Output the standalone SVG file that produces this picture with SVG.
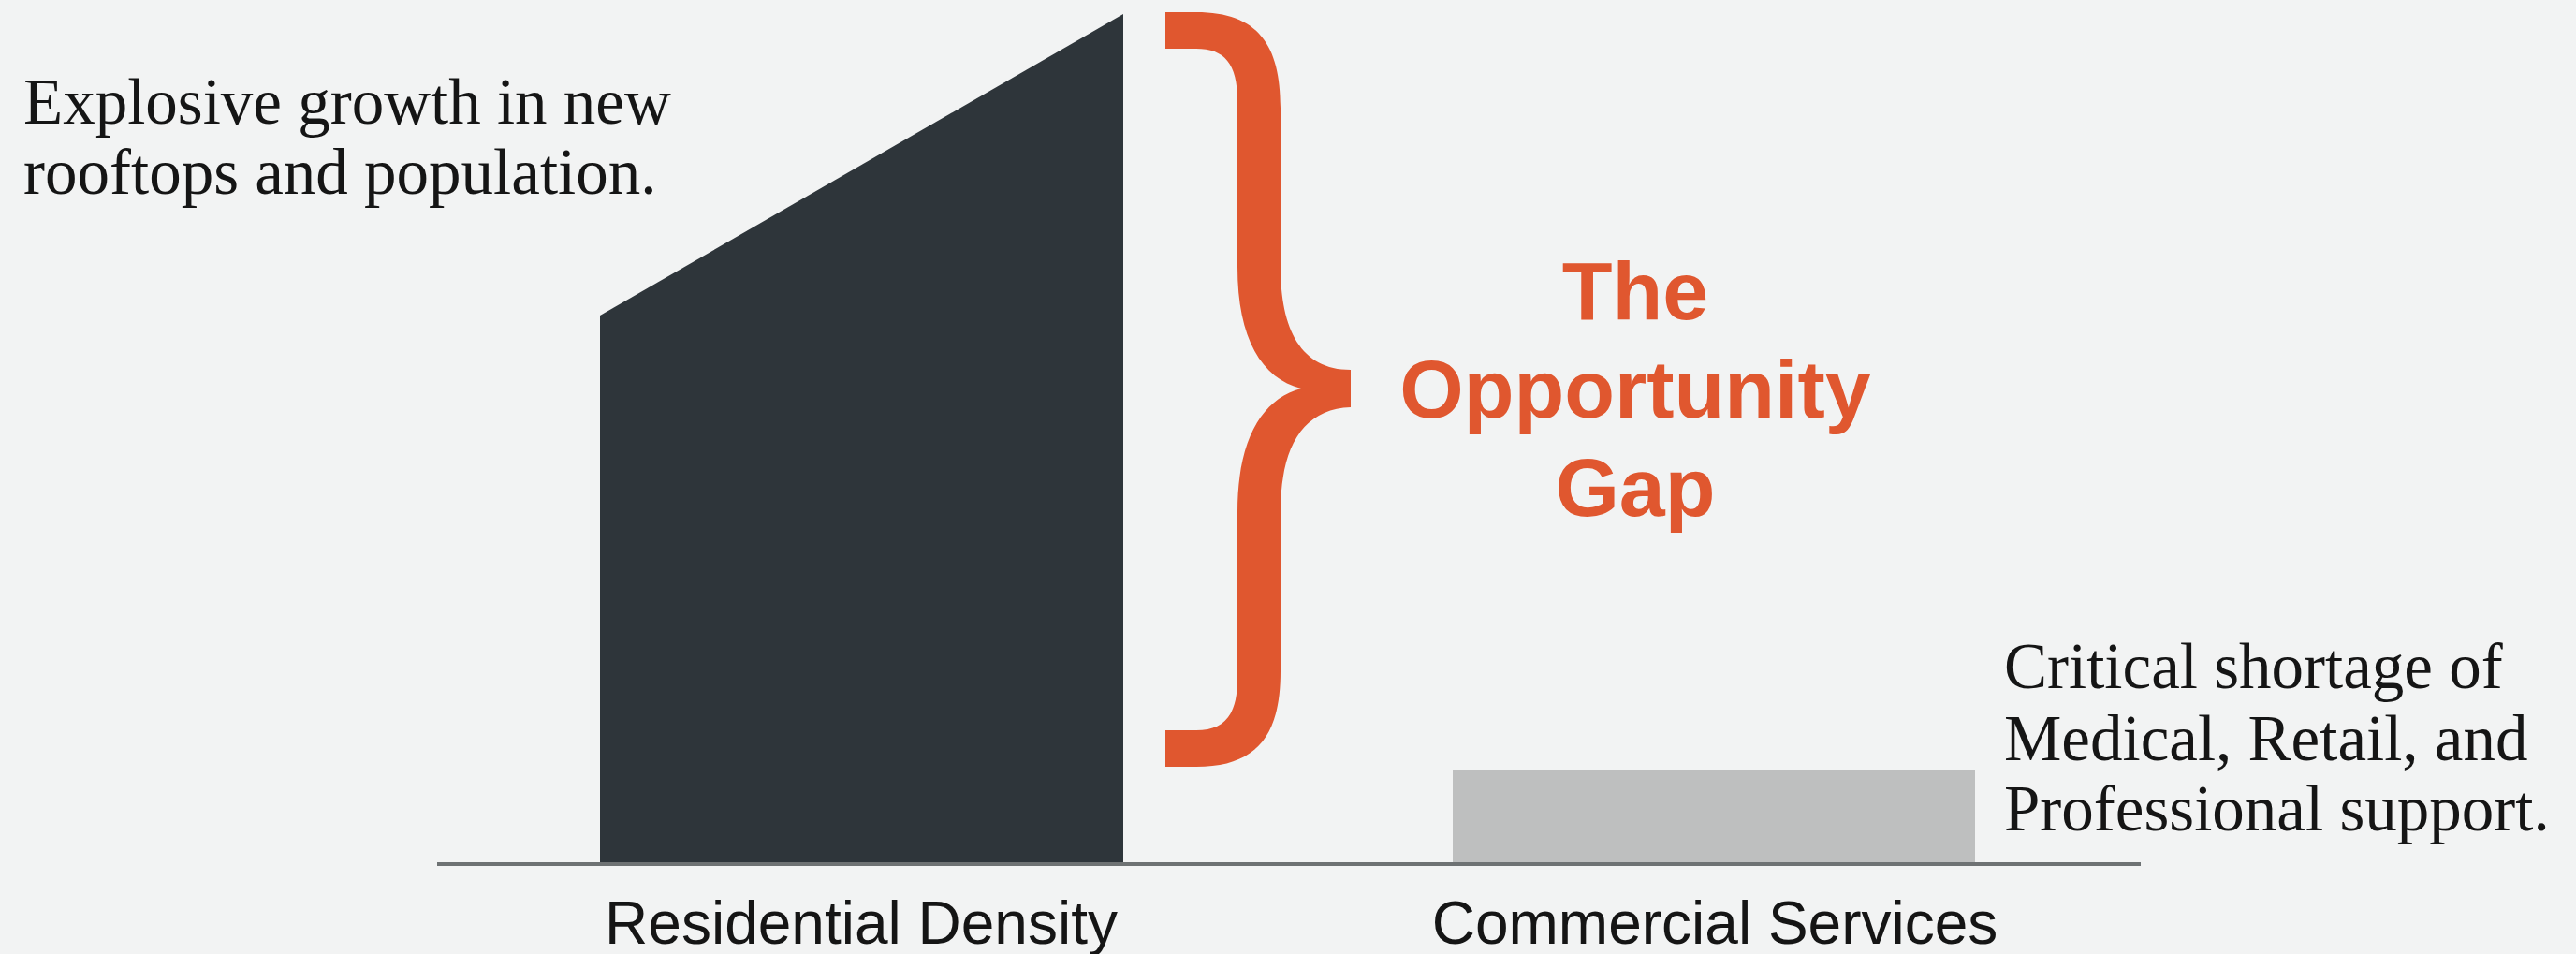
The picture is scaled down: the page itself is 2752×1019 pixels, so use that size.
<svg xmlns="http://www.w3.org/2000/svg" width="2752" height="1019" viewBox="0 0 2752 1019">
  <style>
    .note { font-family: "Liberation Serif", "Times New Roman", serif; font-size: 69px; fill: #151515; }
    .axis-label { font-family: "Liberation Sans", Arial, sans-serif; font-size: 64px; fill: #151515; text-anchor: middle; }
    .gap-label { font-family: "Liberation Sans", Arial, sans-serif; font-size: 88px; font-weight: 700; fill: #E0572F; text-anchor: middle; }
    .accent { fill: #E0572F; }
  </style>

  <!-- page background -->
  <rect x="0" y="0" width="2752" height="1019" fill="#F2F3F3"/>

  <!-- residential bar: rising roofline -->
  <g id="residential-density">
    <polygon points="641,337 1200,15 1200,923 641,923" fill="#2E353A"/>
    <text class="axis-label" x="920" y="1008">Residential Density</text>
  </g>

  <!-- commercial bar: low block -->
  <g id="commercial-services">
    <rect x="1552" y="822" width="558" height="101" fill="#BEBFBF"/>
    <text class="axis-label" x="1832" y="1008">Commercial Services</text>
  </g>

  <!-- baseline axis -->
  <g id="connectors">
    <line x1="467" y1="923" x2="2287" y2="923" stroke="#6E7273" stroke-width="4"/>
  </g>

  <!-- curly brace spanning the gap -->
  <g id="opportunity-gap">
    <path class="accent" d="M1245,13 H1278 C1344,13 1368,48 1368,115 V285 C1368,352 1390,395 1443,395 V435 C1390,437 1368,480 1368,547 V717 C1368,784 1344,819 1278,819 H1245 V780 H1278 C1308,780 1322,764 1322,725 V547 C1322,470 1348,426 1390,415 C1348,404 1322,362 1322,285 V107 C1322,68 1308,52 1278,52 H1245 Z"/>
    <text class="gap-label" x="1747" y="341">The</text>
    <text class="gap-label" x="1747" y="446">Opportunity</text>
    <text class="gap-label" x="1747" y="551">Gap</text>
  </g>

  <!-- annotations -->
  <g id="residential-note">
    <text class="note" x="25" y="132">Explosive growth in new</text>
    <text class="note" x="25" y="207">rooftops and population.</text>
  </g>
  <g id="commercial-note">
    <text class="note" x="2141" y="735">Critical shortage of</text>
    <text class="note" x="2141" y="812">Medical, Retail, and</text>
    <text class="note" x="2141" y="887">Professional support.</text>
  </g>
</svg>
